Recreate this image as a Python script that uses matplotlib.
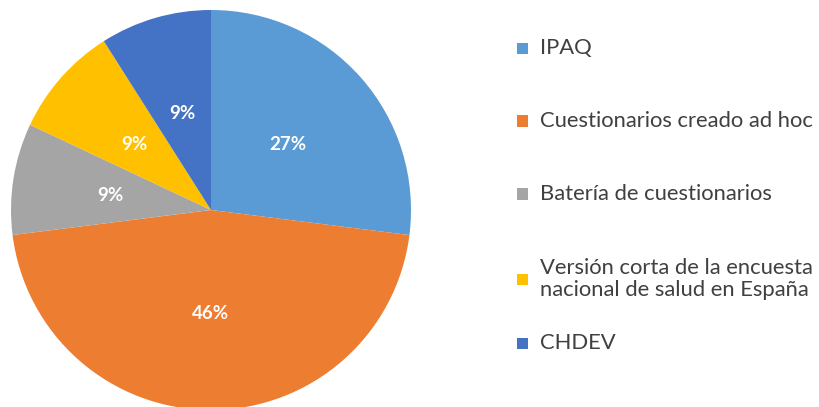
import matplotlib.pyplot as plt
from matplotlib.patches import Rectangle

labels = ["IPAQ", "Cuestionarios creado ad hoc", "Batería de cuestionarios",
          "Versión corta de la encuesta\nnacional de salud en España", "CHDEV"]
shares = [27, 46, 9, 9, 9]
colors = ["#5B9BD5", "#ED7D31", "#A5A5A5", "#FFC000", "#4472C4"]

plt.rcParams['font.family'] = ['Lato', 'DejaVu Sans']

fig = plt.figure(figsize=(8.19, 4.07), dpi=100)
ax = fig.add_axes([11 / 819, -3 / 407, 400 / 819, 400 / 407])

ax.pie(shares, colors=colors, startangle=90, counterclock=False, radius=1,
       autopct=lambda p: f"{p:.0f}%", pctdistance=0.51,
       textprops=dict(color="white", fontsize=13.5, fontweight="bold",
                      va="center_baseline"))
ax.set_xlim(-1, 1)
ax.set_ylim(-1, 1)
ax.set_aspect("equal")

# legend drawn by hand to follow the spacing of the original
leg_y = [48, 121, 194, 279, 343]
for lab, col, y in zip(labels, colors, leg_y):
    yf = 1 - y / 407
    fig.patches.append(Rectangle((517 / 819, yf - 5.5 / 407), 11 / 819, 11 / 407,
                                 transform=fig.transFigure, color=col, lw=0))
    fig.text(540 / 819, yf, lab, fontsize=15.8, color="#404040",
             va="center", ha="left", linespacing=1.12)

fig.savefig("out.png", dpi=100)
